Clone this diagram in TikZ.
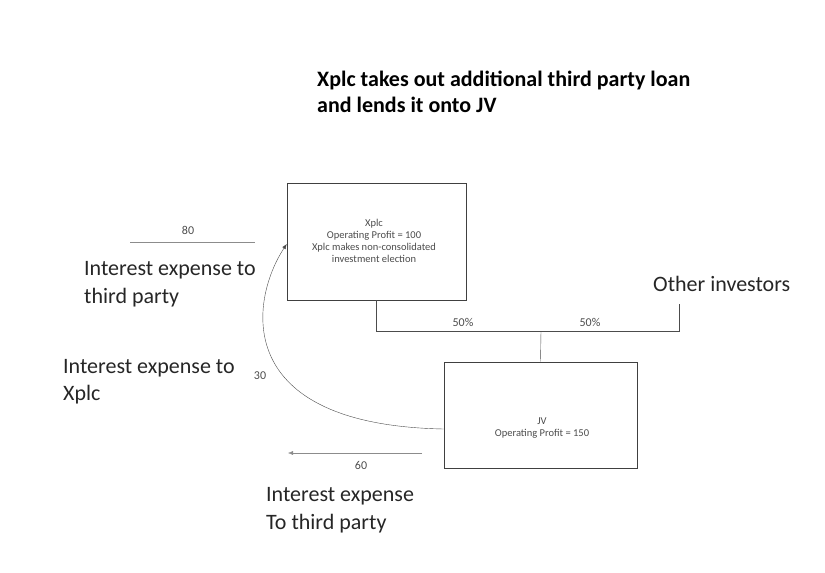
\documentclass[tikz,border=0pt]{standalone}
\usepackage{fontspec}
\setmainfont{Carlito}
\usetikzlibrary{arrows.meta}

\begin{document}
\begin{tikzpicture}[x=1pt, y=-1pt, >={Latex[length=5pt,width=4pt]},
  box/.style={draw=black!75, semithick, fill=white, inner sep=0pt},
  line/.style={draw=black!70, thin},
  arrowline/.style={draw=black!45, thin},
  big/.style={font=\fontsize{22}{27.5}\selectfont, align=left, anchor=west, inner sep=0pt, text=black!85},
  small/.style={font=\fontsize{10.5}{12}\selectfont, align=center, text=black!70},
  num/.style={font=\fontsize{12}{14}\selectfont, text=black!70}]
\useasboundingbox (0,0) rectangle (825,573);
\node[font=\bfseries\fontsize{22}{26}\selectfont, align=left, anchor=west, inner sep=0pt] (title) at (317, 92) {Xplc takes out additional third party loan\\and lends it onto JV};
\node[box, minimum width=179pt, minimum height=117pt] (Xplc) at (376.5, 241.5) {};
\node[small] (XplcText) at (374, 241) {Xplc\\Operating Profit = 100\\Xplc makes non-consolidated\\investment election};
\node[box, minimum width=193pt, minimum height=106pt] (JV) at (540.5, 415) {};
\node[small] (JVText) at (542, 428) {JV\\Operating Profit = 150};
\node[big] (Other) at (653, 284) {Other investors};
\coordinate (XplcLeg) at (376, 331);
\coordinate (OtherLeg) at (679, 331);
\coordinate (OtherTop) at (679, 304);
\coordinate (Join) at (541, 331);
\draw[line] (Xplc.south -| XplcLeg) -- (XplcLeg) -- (OtherLeg) -- (OtherTop);
\draw[line] (Join) -- (JV.north);
\node[num] (Pct1) at (463, 322) {50\%};
\node[num] (Pct2) at (590, 322) {50\%};
% interest to third party from Xplc
\coordinate (TopL) at (130, 242);
\coordinate (TopR) at (255, 242);
\draw[arrowline] (TopL) -- (TopR);
\node[num] (Num80) at (188, 230) {80};
\node[big] (IntTP) at (84, 284) {Interest expense to\\third party};
% interest to Xplc from JV
\draw[->, draw=black!70] (JV.west |- 0, 429) .. controls (230, 425) and (250, 300) .. (Xplc.west |- 0, 244);
\node[num] (Num30) at (260, 376) {30};
\node[big] (IntX) at (63, 381.5) {Interest expense to\\Xplc};
% interest to third party from JV
\coordinate (BotR) at (422, 453);
\coordinate (BotL) at (288, 453);
\draw[arrowline, ->] (BotR) -- (BotL);
\node[num] (Num60) at (361, 465) {60};
\node[big] (IntTP2) at (266, 510) {Interest expense\\To third party};
\end{tikzpicture}
\end{document}
